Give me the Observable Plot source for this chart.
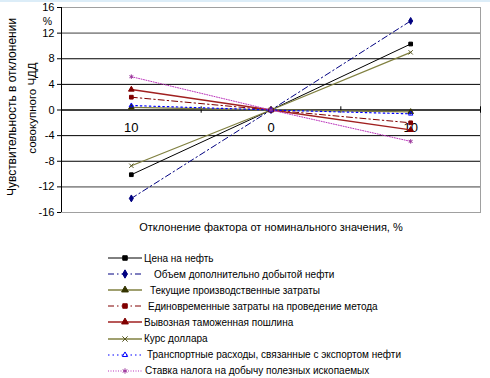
<!DOCTYPE html>
<html><head><meta charset="utf-8">
<script src="https://cdn.jsdelivr.net/npm/d3@7"></script>
<script src="https://cdn.jsdelivr.net/npm/@observablehq/plot@0.6"></script>
<style>
body{margin:0;background:#fff;font-family:"Liberation Sans",Arial,sans-serif;}
#wrap{position:relative;width:490px;height:378px;overflow:hidden;}
#strip{position:absolute;left:0;top:0;width:490px;height:2px;background:#dcedf8;}
#legend{position:absolute;left:0;top:250px;width:490px;font-size:10px;color:#000;}
.row{height:16.1px;display:flex;align-items:center;white-space:nowrap;}
.row svg{margin-left:108px;flex:none;}
</style></head>
<body><div id="wrap"><div id="chart"></div><div id="legend"></div><div id="strip"></div></div>
<script>
const categories = [-10, 0, 10];
const tickLabels = ["10", "0", "10"];
const yTicks = [-16, -12, -8, -4, 0, 4, 8, 12, 16];
const seriesNames = [
  "Цена на нефть",
  "Объем дополнительно добытой нефти",
  "Текущие производственные затраты",
  "Единовременные затраты на проведение метода",
  "Вывозная таможенная пошлина",
  "Курс доллара",
  "Транспортные расходы, связанные с экспортом нефти",
  "Ставка налога на добычу полезных ископаемых"
];
const cena = [-10.1, 0, 10.3];
const obem = [-13.8, 0, 13.9];
const tekushie = [0.4, 0, -0.3];
const edinovr = [2.0, 0, -2.0];
const vyvoz = [3.2, 0, -3.1];
const kurs = [-8.7, 0, 9.0];
const transport = [0.7, 0, -0.6];
const stavka = [5.2, 0, -4.9];
const seriesValues = [cena, obem, tekushie, edinovr, vyvoz, kurs, transport, stavka];

const styles = [
  {stroke:"#000000", dash:null, symbol:"square", fill:"#000000", mstroke:"#000000", w:1},
  {stroke:"#000080", dash:"6,3,1.5,3", symbol:"diamond", fill:"#000080", mstroke:"#000080", w:1},
  {stroke:"#808040", dash:null, symbol:"triangle", fill:"#333300", mstroke:"#333300", w:1.3},
  {stroke:"#800000", dash:"6,3,1.5,3", symbol:"square", fill:"#800000", mstroke:"#800000", w:1},
  {stroke:"#a02020", dash:null, symbol:"triangle", fill:"#800000", mstroke:"#800000", w:1.3},
  {stroke:"#808040", dash:null, symbol:"times", fill:"none", mstroke:"#555522", w:1.3},
  {stroke:"#0000ff", dash:"1.5,3", symbol:"triangle2", fill:"none", mstroke:"#0000ff", w:1.2},
  {stroke:"#bb33bb", dash:"1,1.5", symbol:"asterisk", fill:"none", mstroke:"#993399", w:1}
];

const rows = [];
seriesNames.forEach((name, i) => categories.forEach((c, j) => rows.push({series: name, i, x: c, y: seriesValues[i][j]})));

const marks = [
  Plot.ruleY(yTicks.filter(d => Math.abs(d) !== 16), {stroke: d => Math.abs(d) === 12 ? "#909090" : "#000", strokeWidth: d => Math.abs(d) === 12 ? 1.6 : 1}),
  Plot.frame({stroke: "#a0a0a0"}),
  Plot.ruleX([-15], {stroke: "#000"}),
  Plot.ruleY([0], {stroke: "#000"}),
  Plot.ruleX([-5, 5, 15], {y1: -0.5, y2: 0.5, stroke: "#000"}),
  Plot.axisY({ticks: yTicks, tickFormat: d => String(d), tickSize: 4, tickPadding: 3, fontSize: 11, label: null, stroke: "#000"}),
  Plot.text(["%"], {frameAnchor: "top-left", textAnchor: "middle", dx: -14, dy: 10, fontSize: 10.5, fill: "#000"}),
  Plot.text(["Чувствительность в отклонении"], {frameAnchor: "left", textAnchor: "middle", rotate: -90, dx: -49, dy: -3, fontSize: 12, fill: "#000"}),
  Plot.text(["совокупного ЧДД"], {frameAnchor: "left", textAnchor: "middle", rotate: -90, dx: -29, dy: -2, fontSize: 11.5, fill: "#000"}),
  Plot.text(categories, {x: d => d, y: 0, text: (d, k) => tickLabels[k], dy: 18, fontSize: 13, fill: "#000"}),
  Plot.text(["Отклонение фактора от номинального значения, %"], {frameAnchor: "bottom", dy: 18, fontSize: 11, fill: "#000"})
];
seriesNames.forEach((name, i) => {
  const s = styles[i];
  const data = rows.filter(r => r.i === i);
  marks.push(Plot.line(data, {x: "x", y: "y", stroke: s.stroke, strokeWidth: s.w, strokeDasharray: s.dash}));
});
seriesNames.forEach((name, i) => {
  const s = styles[i];
  const data = rows.filter(r => r.i === i);
  marks.push(Plot.dot(data, {x: "x", y: "y", symbol: s.symbol, r: 2.1, fill: s.fill, stroke: s.mstroke, strokeWidth: 1}));
});

const chart = Plot.plot({
  width: 490, height: 240,
  marginLeft: 61, marginRight: 10, marginTop: 7, marginBottom: 28,
  style: {fontFamily: "'Liberation Sans', Arial, sans-serif", background: "#fff", color: "#000"},
  x: {domain: [-15, 15], axis: null},
  y: {domain: [-16, 16], axis: null},
  marks
});
document.getElementById("chart").appendChild(chart);

// legend
const textOffsets = [1, 11, 7, 5, 1, 1, 4, 2];
const leg = d3.select("#legend");
seriesNames.forEach((name, i) => {
  const s = styles[i];
  const row = leg.append("div").attr("class", "row");
  const svg = row.append("svg").attr("width", 35).attr("height", 12);
  svg.append("line").attr("x1", 0).attr("x2", 34).attr("y1", 6).attr("y2", 6)
    .attr("stroke", s.stroke).attr("stroke-width", s.w).attr("stroke-dasharray", s.dash);
  const sym = {square: d3.symbolSquare, diamond: d3.symbolDiamond, triangle: d3.symbolTriangle, times: d3.symbolTimes, triangle2: d3.symbolTriangle2, asterisk: d3.symbolAsterisk}[s.symbol];
  svg.append("path").attr("d", d3.symbol(sym, 20)()).attr("transform", "translate(17,6)")
    .attr("fill", s.fill).attr("stroke", s.mstroke).attr("stroke-width", 1);
  row.append("span").style("margin-left", textOffsets[i] + "px").text(name);
});
</script></body></html>
